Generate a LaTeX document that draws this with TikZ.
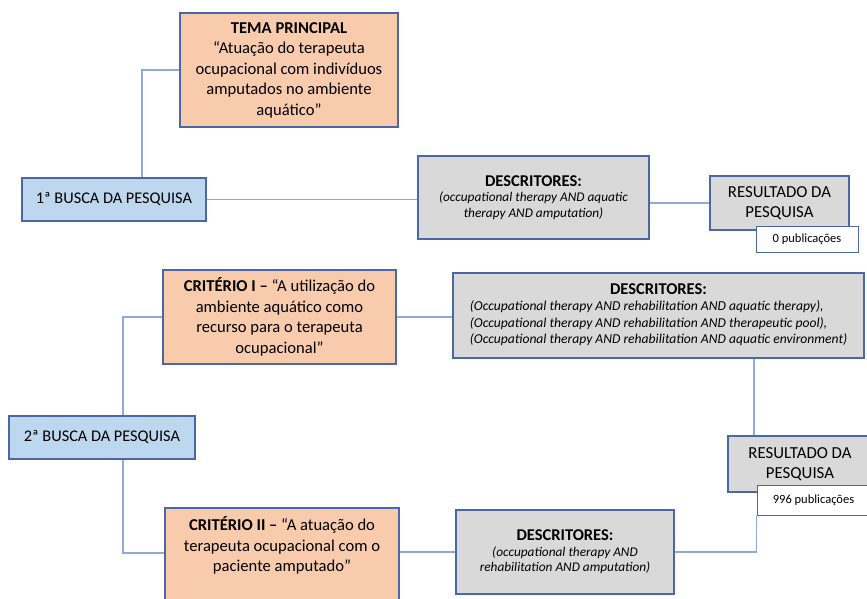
\documentclass[tikz,border=0pt]{standalone}
\usepackage{fontspec}
\setmainfont{Carlito}
\definecolor{bord}{HTML}{4A68A8}
\definecolor{conn}{HTML}{8FA9DC}
\definecolor{orangefill}{HTML}{F8CBAD}
\definecolor{bluefill}{HTML}{BDD7EE}
\definecolor{grayfill}{HTML}{D9D9D9}
\newcommand{\desctitle}{\fontsize{16.5}{18}\selectfont\bfseries\upshape}
\tikzset{
  box/.style={draw=bord, line width=1.2pt, rectangle, align=center, inner sep=2pt},
  orangebox/.style={box, fill=orangefill, font=\fontsize{16.6}{20.5}\selectfont},
  bluebox/.style={box, fill=bluefill, font=\fontsize{16.3}{20}\selectfont},
  graybox/.style={box, fill=grayfill},
  resbox/.style={graybox, font=\fontsize{16.8}{20}\selectfont},
  descsmall/.style={graybox, font=\fontsize{13.3}{15.5}\selectfont\itshape},
  descbigfont/.style={graybox, font=\fontsize{13.6}{16.5}\selectfont\itshape},
  pubbox/.style={box, fill=white, line width=1pt, font=\fontsize{12.5}{14}\selectfont},
  conline/.style={draw=conn, line width=1.3pt},
}
\begin{document}
\begin{tikzpicture}[x=1pt,y=-1pt]
\useasboundingbox (0,0) rectangle (867,599);
% nodes
\node[orangebox, minimum width=218pt, minimum height=114pt] (tema) at (289,70)
  {\textbf{TEMA PRINCIPAL}\\“Atuação do terapeuta\\ocupacional com indivíduos\\amputados no ambiente\\aquático”};
\node[bluebox, minimum width=184pt, minimum height=43pt] (busca1) at (114,199.5) {1ª BUSCA DA PESQUISA};
\node[descsmall, minimum width=231pt, minimum height=83pt] (desc1) at (533.5,197.5)
  {{\desctitle DESCRITORES:}\\[0pt](occupational therapy AND aquatic\\therapy AND amputation)};
\node[resbox, minimum width=139pt, minimum height=54pt] (res1) at (779.5,203) {RESULTADO DA\\PESQUISA};
\node[pubbox, minimum width=102pt, minimum height=26pt] (pub0) at (807,239) {0 publicações};

\node[orangebox, minimum width=233pt, minimum height=94pt] (crit1) at (279.5,317)
  {\textbf{CRITÉRIO I –} “A utilização do\\ambiente aquático como\\recurso para o terapeuta\\ocupacional”};
\node[bluebox, minimum width=186pt, minimum height=43pt] (busca2) at (102,437.5) {2ª BUSCA DA PESQUISA};
\node[descbigfont, minimum width=411pt, minimum height=85pt, inner sep=0pt] (descbig) at (658.5,315.5)
  {\begin{tabular}{@{}l@{}}\multicolumn{1}{@{}c@{}}{\desctitle DESCRITORES:}\\(Occupational therapy AND rehabilitation AND aquatic therapy),\\(Occupational therapy AND rehabilitation AND therapeutic pool),\\(Occupational therapy AND rehabilitation AND aquatic environment)\end{tabular}};
\node[resbox, minimum width=144pt, minimum height=56pt] (res2) at (800,464) {RESULTADO DA\\PESQUISA};
\node[pubbox, minimum width=113pt, minimum height=30pt] (pub996) at (813.5,500) {996 publicações};

\node[orangebox, minimum width=234pt, minimum height=104pt] (crit2) at (282,560) {};
\node[anchor=north, align=center, font=\fontsize{16.6}{20.5}\selectfont] (crit2text) at ([yshift=-6pt]crit2.north)
  {\textbf{CRITÉRIO II –} “A atuação do\\terapeuta ocupacional com o\\paciente amputado”};
\node[descsmall, minimum width=218pt, minimum height=84pt] (desc2) at (565,552)
  {{\desctitle DESCRITORES:}\\[0pt](occupational therapy AND\\rehabilitation AND amputation)};
% connectors
\draw[conline] (tema.west) -| ([xshift=28pt]busca1.north);
\draw[conline] (busca1.east) -- (busca1.east -| desc1.west);
\draw[conline] (res1.west -| desc1.east) -- (res1.west);
\draw[conline] (crit1.west) -| ([xshift=21pt]busca2.north);
\draw[conline] ([xshift=21pt]busca2.south) |- ([yshift=7pt]crit2.west);
\draw[conline] (crit1.east) -- (crit1.east -| descbig.west);
\draw[conline] ([xshift=95.5pt]descbig.south) -- ([xshift=95.5pt]descbig.south |- res2.north);
\draw[conline] (desc2.west -| crit2.east) -- (desc2.west);
\draw[conline] (desc2.east) -| (pub996.south west);
\end{tikzpicture}
\end{document}
